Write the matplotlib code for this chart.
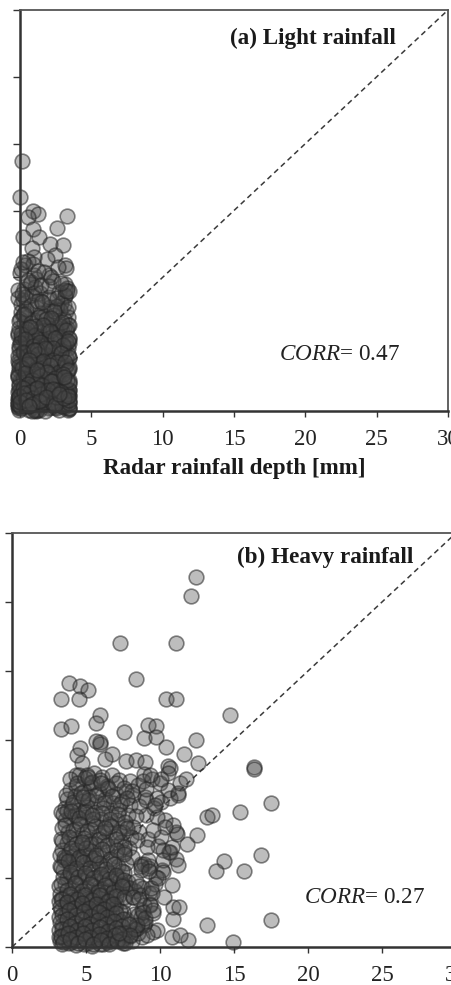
#!/usr/bin/env python3
# -*- coding: utf-8 -*-

import matplotlib
matplotlib.use("Agg")
import matplotlib.pyplot as plt

plt.rcParams['font.family'] = ['Liberation Serif', 'DejaVu Serif']
plt.rcParams['mathtext.fontset'] = 'custom'
plt.rcParams['mathtext.it'] = 'Liberation Serif:italic'
plt.rcParams['mathtext.rm'] = 'Liberation Serif'

TICKS = [0, 5, 10, 15, 20, 25, 30]
XLABEL_A = "Radar rainfall depth [mm]"
TITLE_A = "(a) Light rainfall"
TITLE_B = "(b) Heavy rainfall"
CORR_A = 0.47
CORR_B = 0.27

# Light rainfall events : radar depth, then gauge depth on the same line
light_radar = [
    0.14, 0.02, 3.30, 0.93, 1.28, 0.58, 2.57, 0.89, 0.19, 1.35,
    2.10, 3.03, 0.82, 2.45, 1.87, 1.00, 3.15, 0.00, 2.05, 1.00,
    0.35, 0.70, 3.15, 1.40, 3.15, 0.23, 2.10, 1.10, 3.20, 0.30,
    2.70, 1.65, 0.55, 3.30, 2.30, 1.45, 0.10, 3.05, 0.85, 2.55,
    0.05, 1.20, 2.00, 3.25, 0.45, 2.85, 1.70, 0.75, 3.35, 2.40,
    0.00, 0.95, 1.55, 2.65, 3.10, 0.30, 1.90, 2.25, 3.38, 0.60,
    -0.05, 1.15, 1.75, 2.95, 3.30, 0.40, 2.15, 0.80, 2.60, 1.35,
    0.10, 1.05, 1.60, 2.35, 3.20, 0.50, 2.80, 3.40, 1.85, 0.70,
    -0.10, 0.90, 1.30, 2.50, 3.05, 0.25, 2.05, 3.35, 1.50, 0.65,
    0.00, 1.10, 1.95, 2.75, 3.25, 0.35, 2.30, 3.42, 0.80, 1.40,
    -0.10, 0.55, 1.25, 2.10, 2.90, 3.15, 0.20, 1.70, 3.40, 2.45,
    -0.05, 0.75, 1.45, 2.60, 3.30, 0.40, 1.05, 2.20, 3.00, 1.85,
    -0.15, 0.30, 1.20, 1.90, 2.70, 3.40, 0.60, 2.40, 3.10, 0.95,
    -0.10, 0.45, 1.55, 2.25, 2.85, 3.35, 0.15, 1.00, 3.20, 1.75,
    -0.15, 0.65, 1.30, 2.05, 2.55, 3.42, 0.25, 0.85, 3.05, 1.60,
    -0.05, 0.50, 1.15, 1.80, 2.35, 2.95, 3.40, 0.10, 2.70, 1.40,
    -0.15, 0.35, 0.90, 1.50, 2.15, 3.25, 3.42, 0.70, 2.50, 1.95,
    -0.10, 0.20, 0.80, 1.25, 2.00, 2.80, 3.38, 0.55, 1.65, 3.10,
    -0.15, 0.40, 1.05, 1.70, 2.30, 2.90, 3.42, 0.00, 0.60, 2.60,
    -0.10, 0.15, 0.75, 1.35, 1.85, 2.45, 3.20, 3.40, 1.10, 2.95,
    -0.15, 0.30, 0.95, 1.55, 2.20, 2.75, 3.35, 0.05, 0.50, 3.05,
    -0.10, 0.25, 0.65, 1.20, 1.75, 2.40, 3.00, 3.42, 0.85, 2.10,
    -0.15, 0.10, 0.45, 1.00, 1.60, 2.25, 2.85, 3.30, 3.42, 0.70,
    -0.10, 0.35, 0.80, 1.30, 1.90, 2.55, 3.15, 3.40, 0.00, 2.15,
    -0.15, 0.20, 0.55, 1.15, 1.45, 2.05, 2.65, 3.25, 3.42, 0.90,
    -0.15, 0.05, 0.40, 0.75, 1.25, 1.80, 2.35, 2.90, 3.38, 1.50,
    -0.10, 0.30, 0.60, 1.05, 1.65, 2.20, 2.75, 3.20, 3.42, 0.10,
    -0.15, 0.15, 0.50, 0.85, 1.35, 1.95, 2.50, 3.05, 3.40, 2.80,
    -0.15, 0.00, 0.25, 0.65, 1.10, 1.70, 2.30, 2.95, 3.42, 1.40,
    -0.10, 0.10, 0.40, 0.80, 1.55, 2.10, 2.60, 3.30, 3.42, 0.05,
    -0.12, 0.42, 0.95, 1.48, 2.02, 2.58, 3.12, 0.18, 1.22, 2.78,
    -0.08, 0.28, 0.78, 1.32, 1.82, 2.38, 2.92, 3.36, 1.02, 2.18,
    -0.14, 0.52, 1.08, 1.62, 2.12, 2.68, 3.22, 0.08, 0.68, 3.40,
    -0.02, 0.38, 0.88, 1.42, 1.92, 2.48, 3.02, 3.34, 1.18, 2.28,
    -0.12, 0.22, 0.72, 1.28, 1.78, 2.32, 2.88, 3.42, 0.98, 2.62,
    -0.06, 0.48, 1.12, 1.58, 2.08, 2.72, 3.18, 0.12, 0.62, 3.38,
    -0.14, 0.32, 0.82, 1.38, 1.88, 2.42, 2.98, 3.40, 1.22, 2.22,
    -0.04, 0.58, 1.02, 1.52, 2.18, 2.62, 3.28, 0.18, 0.72, 3.06,
    -0.10, 0.26, 0.92, 1.44, 1.96, 2.52, 2.84, 3.42, 1.16, 2.34,
    0.02, 0.44, 0.86, 1.36, 1.84, 2.44, 3.08, 3.36, 0.64, 2.74,
    -0.12, 0.36, 1.06, 1.56, 2.06, 2.56, 3.16, 0.16, 0.76, 3.42,
    0.04, 0.54, 0.94, 1.46, 2.14, 2.66, 3.26, 0.24, 1.26, 2.86,
]
light_gauge = [
    18.70, 16.00, 14.60, 15.00, 14.75, 14.55, 13.70, 13.60, 13.00, 13.00,
    12.50, 12.40, 12.20, 11.70, 11.40, 11.50, 10.95, 10.30, 10.15, 10.20,
    10.90, 9.50, 9.50, 8.80, 8.60, 8.30, 7.80, 9.90, 10.70, 9.10,
    8.90, 10.40, 11.20, 9.20, 9.70, 8.20, 8.00, 7.90, 8.70, 7.60,
    7.40, 7.70, 8.40, 7.50, 7.30, 8.10, 7.10, 7.90, 7.00, 7.20,
    6.90, 6.80, 7.00, 6.70, 6.90, 6.60, 6.50, 6.80, 6.40, 6.30,
    6.20, 6.10, 6.30, 6.00, 6.20, 5.90, 5.80, 5.70, 5.90, 5.60,
    5.50, 5.60, 5.40, 5.50, 5.30, 5.20, 5.40, 5.10, 5.20, 5.00,
    4.90, 4.80, 5.00, 4.70, 4.80, 4.60, 4.50, 4.70, 4.40, 4.30,
    4.20, 4.30, 4.10, 4.20, 4.00, 3.90, 3.80, 4.00, 3.70, 3.80,
    3.60, 3.50, 3.70, 3.40, 3.60, 3.30, 3.20, 3.10, 3.30, 3.00,
    3.10, 2.90, 3.00, 2.80, 2.90, 2.70, 2.60, 2.80, 2.50, 2.40,
    2.60, 2.50, 2.30, 2.40, 2.20, 2.30, 2.10, 2.00, 2.10, 1.90,
    2.00, 1.80, 1.90, 1.70, 1.80, 1.60, 1.50, 1.60, 1.40, 1.50,
    1.40, 1.30, 1.20, 1.30, 1.10, 1.20, 1.00, 1.10, 0.90, 1.00,
    0.90, 0.80, 0.90, 0.70, 0.80, 0.60, 0.70, 0.50, 0.60, 0.40,
    0.55, 0.95, 0.35, 1.15, 0.30, 0.80, 0.25, 1.35, 0.20, 0.70,
    0.40, 1.25, 0.30, 0.85, 0.25, 1.05, 0.10, 1.45, 0.55, 0.30,
    0.30, 0.70, 0.10, 1.35, 0.45, 0.90, 0.15, 1.10, 0.05, 0.60,
    0.20, 1.00, 0.50, 0.05, 1.20, 0.30, 0.75, 1.55, 0.00, 0.85,
    0.95, 0.35, 0.10, 1.40, 0.60, 0.05, 1.25, 0.20, 0.80, 0.45,
    0.10, 0.65, 1.05, 0.05, 0.00, 0.55, 0.95, 0.25, 0.00, 1.30,
    0.75, 1.10, 0.85, 0.65, 0.95, 0.70, 1.25, 0.80, 1.15, 1.40,
    1.60, 1.85, 1.70, 1.95, 1.65, 2.15, 1.75, 2.05, 2.35, 2.65,
    2.75, 2.45, 2.95, 2.55, 3.25, 2.85, 2.65, 3.45, 3.15, 3.55,
    3.75, 3.35, 4.05, 3.65, 3.85, 4.15, 3.95, 4.35, 4.25, 4.55,
    4.65, 4.45, 4.75, 4.95, 4.85, 5.25, 4.55, 5.05, 5.35, 5.15,
    5.65, 5.45, 5.75, 5.55, 5.95, 6.05, 6.25, 6.15, 6.45, 6.35,
    0.55, 0.35, 0.60, 0.45, 0.75, 0.65, 0.50, 0.35, 0.60, 0.95,
    1.05, 1.35, 1.20, 1.45, 0.85, 1.55, 1.30, 1.25, 1.55, 1.70,
    8.45, 7.65, 8.85, 7.35, 8.55, 7.85, 8.65, 7.15, 8.25, 7.55,
    6.75, 7.25, 6.55, 7.05, 6.85, 7.45, 6.65, 7.75, 6.35, 6.95,
    5.85, 6.15, 5.65, 6.45, 5.95, 5.55, 6.05, 5.75, 6.25, 5.45,
    5.05, 5.35, 4.85, 5.15, 4.65, 5.45, 4.95, 5.25, 4.55, 4.75,
    4.15, 4.45, 3.95, 4.25, 4.75, 3.85, 4.35, 4.05, 4.55, 3.65,
    3.35, 3.55, 3.15, 3.75, 3.45, 2.95, 3.65, 3.25, 3.85, 3.05,
    2.55, 2.85, 2.35, 2.65, 2.95, 2.45, 2.75, 2.15, 3.05, 2.25,
    1.85, 2.05, 1.65, 1.95, 2.25, 1.55, 2.35, 1.75, 1.45, 2.55,
    1.15, 1.35, 0.95, 1.25, 1.55, 1.05, 1.45, 0.85, 1.75, 1.65,
    0.65, 0.85, 0.55, 0.75, 1.05, 0.45, 0.95, 1.15, 0.35, 1.25,
    9.05, 8.55, 9.25, 8.15, 9.35, 8.45, 9.05, 8.75, 9.65, 8.95,
    10.60, 9.80, 11.00, 9.40, 10.00, 10.75, 8.95, 11.15, 10.45, 9.55,
]

# Heavy rainfall events : radar depth, then gauge depth on the same line
heavy_radar = [
    12.43, 12.07, 7.27, 11.08, 8.38, 3.85, 4.60, 5.16, 3.31, 4.50,
    10.38, 11.06, 5.92, 5.65, 3.31, 4.00, 7.60, 9.19, 9.73, 8.94,
    9.75, 12.43, 5.92, 4.62, 4.41, 10.38, 11.62, 6.73, 6.28, 7.70,
    8.38, 8.96, 4.70, 12.59, 10.56, 10.68, 14.73, 4.32, 13.15, 13.50,
    12.52, 11.80, 11.10, 14.30, 13.76, 10.80, 13.20, 10.90, 11.30, 10.90,
    11.90, 10.80, 11.35, 9.78, 9.55, 8.76, 7.50, 8.10, 16.37, 16.37,
    17.48, 15.40, 16.82, 10.70, 15.70, 17.48, 14.90, 11.15, 5.92, 5.65,
    8.90, 9.45, 10.00, 10.55, 11.20, 10.05, 9.60, 9.05, 10.35, 10.90,
    8.55, 9.20, 9.85, 10.60, 11.10, 8.70, 9.35, 10.15, 9.70, 8.85,
    4.50, 5.05, 5.55, 6.10, 6.75, 7.25, 7.95, 8.50, 5.30, 6.40,
    3.95, 4.35, 4.85, 5.35, 5.90, 6.45, 7.00, 7.70, 8.20, 9.00,
    3.70, 4.25, 4.70, 5.20, 5.75, 6.30, 6.85, 7.40, 8.00, 8.55,
    3.60, 4.05, 4.55, 5.05, 5.60, 6.15, 6.70, 7.25, 7.85, 8.35,
    3.55, 3.95, 4.45, 4.95, 5.45, 6.00, 6.55, 7.10, 7.65, 8.20,
    3.35, 3.80, 4.30, 4.80, 5.35, 5.85, 6.40, 6.95, 7.50, 8.05,
    3.30, 3.70, 4.20, 4.70, 5.20, 5.70, 6.25, 6.80, 7.35, 7.90,
    3.40, 3.85, 4.35, 4.85, 5.35, 5.90, 6.45, 7.00, 7.55, 8.10,
    3.50, 3.95, 4.45, 5.00, 5.50, 6.05, 6.60, 7.15, 7.70, 8.90,
    3.45, 3.90, 4.40, 4.90, 5.45, 5.95, 6.50, 7.05, 7.60, 9.20,
    3.25, 3.70, 4.15, 4.65, 5.15, 5.65, 6.20, 6.75, 7.30, 7.85,
    3.20, 3.60, 4.05, 4.55, 5.05, 5.55, 6.10, 6.65, 7.20, 7.75,
    3.25, 3.65, 4.10, 4.60, 5.10, 5.60, 6.15, 6.70, 7.25, 8.30,
    3.20, 3.55, 4.00, 4.45, 4.95, 5.45, 5.95, 6.50, 7.05, 7.60,
    8.15, 8.70, 9.25, 3.30, 3.75, 4.25, 4.75, 5.30, 5.85, 6.40,
    3.20, 3.60, 4.05, 4.50, 5.00, 5.50, 6.05, 6.60, 7.15, 7.70,
    8.25, 8.80, 9.35, 3.35, 3.85, 4.35, 4.90, 5.40, 5.95, 6.55,
    3.20, 3.65, 4.10, 4.60, 5.15, 5.70, 6.25, 6.80, 7.35, 7.90,
    8.45, 9.00, 9.50, 3.30, 3.75, 4.25, 4.80, 5.35, 5.90, 6.45,
    3.25, 3.55, 4.00, 4.50, 5.05, 5.60, 6.15, 6.70, 7.25, 7.80,
    8.35, 8.90, 3.40, 3.85, 4.35, 4.85, 5.40, 5.95, 6.50, 7.05,
    3.20, 3.60, 4.10, 4.65, 5.20, 5.75, 6.30, 6.85, 7.40, 7.95,
    8.50, 3.30, 3.70, 4.20, 4.75, 5.30, 5.85, 6.40, 6.95, 7.50,
    3.25, 3.65, 4.15, 4.70, 5.25, 5.80, 6.35, 6.90, 7.45, 8.00,
    3.30, 3.75, 4.25, 4.80, 5.10, 5.65, 6.20, 6.75, 7.30, 8.70,
    3.90, 4.40, 4.90, 5.40, 5.95, 6.50, 7.05, 7.60, 8.10, 5.15,
    3.65, 4.15, 4.65, 5.15, 5.65, 6.20, 6.75, 7.30, 7.80, 6.00,
    3.45, 4.00, 4.50, 5.00, 5.50, 6.05, 6.60, 7.15, 7.65, 4.80,
    3.60, 4.10, 4.60, 5.10, 5.60, 6.15, 6.70, 7.25, 7.75, 5.40,
    3.35, 3.85, 4.35, 4.85, 5.35, 5.90, 6.45, 7.00, 7.55, 6.30,
    3.50, 4.00, 4.50, 5.00, 5.55, 6.05, 6.60, 7.10, 7.60, 4.70,
    3.30, 3.80, 4.30, 4.80, 5.30, 5.85, 6.35, 6.90, 7.45, 5.65,
    3.45, 3.95, 4.45, 4.95, 5.45, 6.00, 6.55, 7.05, 7.60, 8.70,
    3.30, 3.75, 4.25, 4.75, 5.25, 5.80, 6.30, 6.85, 7.40, 8.40,
    3.40, 3.90, 4.40, 4.90, 5.40, 5.95, 6.50, 7.00, 7.55, 8.60,
    3.25, 3.70, 4.20, 4.70, 5.20, 5.70, 6.25, 6.80, 7.30, 8.20,
    3.35, 3.85, 4.35, 4.85, 5.35, 5.90, 6.45, 7.00, 7.50, 8.95,
    3.25, 3.75, 4.25, 4.75, 5.25, 5.80, 6.35, 6.90, 7.40, 8.50,
    3.40, 3.90, 4.40, 4.90, 5.40, 5.95, 6.50, 7.05, 7.60, 8.80,
    3.30, 3.80, 4.30, 4.80, 5.30, 5.85, 6.40, 6.95, 7.45, 8.30,
    3.45, 3.95, 4.45, 4.95, 5.45, 6.00, 6.55, 7.10, 7.65, 9.10,
    9.03, 9.77, 10.67, 11.35, 11.75, 11.24, 10.56, 10.10, 8.87, 9.30,
    9.03, 9.77, 9.66, 10.34, 10.10, 9.55, 8.42, 9.10, 10.20, 10.80,
    10.20, 11.24, 10.20, 9.20, 9.66, 10.25, 9.43, 9.30, 8.87, 8.42,
    7.90, 7.97, 7.20, 9.00, 9.40, 9.85, 9.50, 8.75, 9.25, 8.60,
]
heavy_gauge = [
    26.80, 25.40, 22.00, 22.00, 19.40, 19.10, 18.90, 18.60, 18.00, 18.00,
    18.00, 18.00, 16.80, 16.25, 15.80, 16.00, 15.60, 16.06, 16.00, 15.17,
    15.20, 15.00, 14.83, 14.40, 13.90, 14.50, 14.00, 14.00, 13.60, 13.50,
    13.55, 13.43, 13.30, 13.30, 13.10, 13.00, 16.80, 12.50, 9.44, 9.56,
    8.10, 7.50, 8.36, 6.20, 5.50, 4.50, 1.60, 2.90, 2.90, 2.00,
    0.50, 0.70, 0.90, 1.20, 1.10, 0.70, 0.27, 0.40, 13.07, 12.87,
    10.46, 9.80, 6.67, 6.90, 5.50, 1.96, 0.39, 8.20, 14.70, 14.90,
    12.55, 12.20, 11.85, 11.40, 11.00, 10.50, 10.05, 9.60, 9.20, 8.85,
    8.30, 7.80, 7.30, 6.85, 6.40, 6.00, 5.90, 5.60, 5.10, 4.30,
    12.50, 12.45, 12.60, 12.35, 12.50, 12.10, 12.00, 11.75, 11.90, 11.70,
    11.40, 11.70, 11.30, 11.60, 11.20, 11.55, 11.10, 11.30, 11.00, 10.85,
    10.70, 10.95, 10.55, 10.85, 10.50, 10.75, 10.40, 10.60, 10.30, 10.20,
    10.05, 10.30, 9.90, 10.15, 9.80, 10.05, 9.70, 9.95, 9.60, 9.50,
    9.20, 9.45, 9.10, 9.40, 9.00, 9.30, 8.90, 9.20, 8.80, 8.70,
    8.60, 8.30, 8.55, 8.20, 8.50, 8.15, 8.40, 8.05, 8.30, 7.95,
    7.80, 7.55, 7.80, 7.50, 7.70, 7.45, 7.65, 7.35, 7.60, 7.20,
    7.00, 6.80, 7.05, 6.75, 6.95, 6.70, 6.90, 6.60, 6.85, 6.50,
    6.30, 6.05, 6.35, 6.00, 6.30, 5.95, 6.20, 5.90, 6.10, 6.05,
    5.60, 5.30, 5.55, 5.25, 5.50, 5.20, 5.45, 5.15, 5.40, 5.70,
    5.85, 5.00, 5.15, 4.85, 5.05, 4.80, 5.00, 4.75, 4.95, 4.70,
    4.40, 4.55, 4.30, 4.50, 4.25, 4.45, 4.20, 4.40, 4.15, 4.35,
    3.85, 3.70, 3.90, 3.65, 3.85, 3.60, 3.80, 3.55, 3.75, 4.05,
    3.30, 3.10, 3.25, 3.05, 3.20, 3.00, 3.15, 2.95, 3.10, 3.35,
    3.60, 3.75, 3.90, 2.70, 2.55, 2.75, 2.50, 2.70, 2.45, 2.65,
    2.15, 2.25, 2.05, 2.20, 2.00, 2.15, 1.95, 2.10, 1.90, 2.05,
    2.40, 2.70, 3.10, 1.60, 1.75, 1.55, 1.70, 1.50, 1.65, 1.45,
    1.20, 1.30, 1.10, 1.25, 1.05, 1.20, 1.00, 1.15, 0.95, 1.10,
    1.40, 1.80, 2.50, 0.75, 0.85, 0.70, 0.80, 0.65, 0.75, 0.60,
    0.40, 0.55, 0.35, 0.50, 0.30, 0.45, 0.25, 0.40, 0.60, 0.90,
    1.30, 1.60, 0.20, 0.30, 0.15, 0.25, 0.10, 0.20, 0.35, 0.50,
    0.70, 0.95, 0.60, 1.05, 0.85, 0.55, 0.90, 0.65, 0.45, 0.80,
    1.00, 3.45, 3.25, 3.50, 3.20, 3.40, 3.15, 3.35, 2.85, 2.55,
    6.65, 6.45, 6.60, 6.40, 6.55, 4.10, 3.95, 4.15, 4.60, 4.25,
    9.75, 9.85, 9.60, 9.80, 3.50, 2.60, 2.35, 2.45, 1.85, 2.20,
    12.15, 11.85, 12.25, 11.95, 12.10, 11.50, 11.85, 11.50, 11.30, 12.35,
    11.05, 10.50, 11.15, 10.65, 11.05, 10.45, 10.95, 10.35, 10.80, 11.90,
    9.65, 9.85, 9.35, 9.75, 9.30, 9.70, 9.25, 9.65, 9.05, 10.90,
    8.85, 8.45, 8.90, 8.40, 8.80, 8.35, 8.75, 8.30, 8.60, 9.55,
    7.65, 7.95, 7.50, 7.90, 7.45, 7.85, 7.40, 7.80, 7.25, 8.60,
    6.55, 7.20, 6.50, 7.15, 6.45, 7.10, 6.40, 7.05, 6.75, 7.60,
    5.80, 6.20, 5.75, 6.15, 5.70, 6.10, 5.65, 6.05, 5.50, 6.70,
    5.10, 5.40, 5.05, 5.35, 5.00, 5.30, 4.95, 5.25, 4.85, 5.60,
    4.60, 4.10, 4.65, 4.05, 4.55, 4.00, 4.50, 3.95, 4.40, 4.80,
    3.50, 3.85, 3.45, 3.80, 3.40, 3.75, 3.35, 3.70, 3.60, 4.40,
    2.90, 3.25, 2.85, 3.20, 2.80, 3.15, 2.75, 3.10, 2.60, 3.65,
    2.35, 2.65, 2.30, 2.60, 2.25, 2.55, 2.20, 2.50, 2.05, 3.05,
    1.80, 2.05, 1.75, 2.00, 1.70, 1.95, 1.65, 1.90, 1.50, 2.35,
    1.30, 1.55, 1.25, 1.50, 1.20, 1.45, 1.15, 1.40, 1.00, 1.70,
    0.80, 1.05, 0.75, 1.00, 0.70, 0.95, 0.65, 0.90, 0.55, 1.30,
    0.35, 0.60, 0.30, 0.55, 0.25, 0.50, 0.20, 0.45, 0.30, 0.85,
    10.65, 10.77, 10.77, 11.90, 12.20, 11.18, 12.58, 12.20, 12.00, 12.46,
    11.45, 9.44, 10.30, 8.70, 8.00, 8.50, 7.75, 7.27, 7.00, 7.27,
    6.30, 5.94, 5.46, 6.30, 4.60, 3.65, 3.90, 3.04, 2.56, 1.60,
    1.70, 0.87, 1.00, 2.10, 4.30, 5.00, 2.70, 5.85, 5.50, 3.45,
]

FIG_W = 452
FIG_H = 985


def tracer_panneau(fig, box, radar, gauge, titre, pos_titre, corr, pos_corr):
    gauche, haut, droite, bas = box
    ax = fig.add_axes([gauche / FIG_W, 1 - bas / FIG_H,
                       (droite - gauche) / FIG_W, (bas - haut) / FIG_H])
    ax.set_xlim(0, 30)
    ax.set_ylim(0, 30)

    ax.plot([0, 30], [0, 30], color='#3a3a3a', linestyle=(0, (3.5, 2.5)),
            linewidth=1.1, zorder=1)
    ax.scatter(radar, gauge, s=112, facecolor=(0.29, 0.29, 0.29, 0.36),
               edgecolor=(0.15, 0.15, 0.15, 0.55), linewidth=1.2,
               clip_on=False, zorder=2)

    # Axes epais a gauche et en bas, cadre fin ailleurs
    for cote in ['left', 'bottom']:
        ax.spines[cote].set_linewidth(1.8)
        ax.spines[cote].set_color('#333333')
    for cote in ['top', 'right']:
        ax.spines[cote].set_linewidth(1.3)
        ax.spines[cote].set_color('#555555')

    ax.set_xticks(TICKS)
    ax.set_yticks(TICKS)
    ax.set_yticklabels([])
    ax.tick_params(axis='x', length=4, width=1.0, color='#333333',
                   labelsize=16.5, pad=9, labelcolor='#222222')
    ax.tick_params(axis='y', length=5, width=1.0, color='#333333')

    ax.text(pos_titre[0], pos_titre[1], titre, fontsize=16.7, fontweight='bold',
            ha='center', va='center', color='#1a1a1a', zorder=3)
    ax.text(pos_corr[0], pos_corr[1], f"$CORR$= {corr:.2f}", fontsize=16.7,
            ha='left', va='center', color='#222222', zorder=3)
    return ax


fig = plt.figure(figsize=(FIG_W / 100, FIG_H / 100), dpi=100)

ax_a = tracer_panneau(fig, (20, 10, 448, 411), light_radar, light_gauge,
                      TITLE_A, (20.5, 27.9), CORR_A, (18.15, 4.26))
ax_a.set_xlabel(XLABEL_A, fontsize=16.6, fontweight='bold', labelpad=6,
                color='#1a1a1a')

tracer_panneau(fig, (12, 533, 456, 947), heavy_radar, heavy_gauge,
               TITLE_B, (21.15, 28.26), CORR_B, (19.73, 3.62))

plt.savefig("out.png", dpi=100)
plt.close()
